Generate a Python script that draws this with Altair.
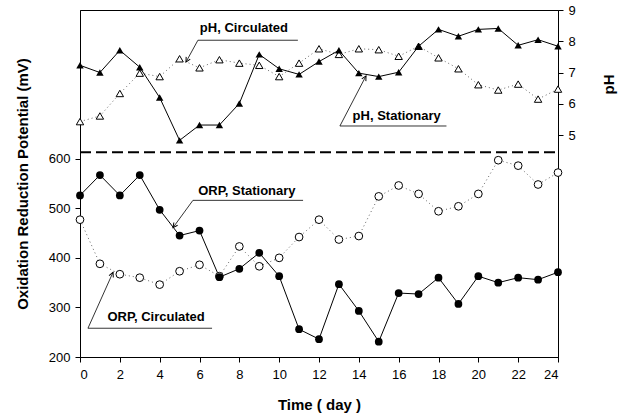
import altair as alt
import pandas as pd

days = list(range(0, 25))

ph_stationary = [7.23, 7.0, 7.71, 7.17, 6.2, 4.83, 5.32, 5.32, 6.01, 7.58, 7.12, 6.94, 7.35,
                 7.71, 6.98, 6.87, 7.01, 7.84, 8.38, 8.16, 8.38, 8.41, 7.87, 8.05, 7.84]
ph_circulated = [5.43, 5.61, 6.33, 6.98, 6.87, 7.44, 7.15, 7.41, 7.30, 7.23, 6.87, 7.30, 7.76,
                 7.58, 7.76, 7.73, 7.52, 7.84, 7.47, 7.12, 6.61, 6.44, 6.63, 6.15, 6.47]
orp_stationary = [526, 567, 526, 567, 497, 445, 455, 361, 378, 410, 363, 256, 236,
                  347, 293, 231, 329, 327, 360, 307, 363, 350, 360, 356, 371]
orp_circulated = [477, 388, 367, 360, 346, 373, 386, 363, 423, 383, 400, 442, 477,
                  437, 444, 524, 546, 529, 494, 504, 529, 597, 586, 548, 572]

divider_orp = [613]

# annotations (positions in data units: day, ORP)
ann_text = ["pH, Circulated", "pH, Stationary", "ORP, Stationary", "ORP, Circulated"]
ann_tx = [8.23, 15.9, 8.38, 3.82]
ann_ty = [863, 686, 534, 280]
ann_line_x1 = [5.92, 13.05, 5.67, 0.40]
ann_line_x2 = [10.94, 18.40, 11.20, 6.63]
ann_line_y = [839, 666, 516, 258]
ann_tip_x = [5.32, 14.36, 4.67, 1.66]
ann_tip_y = [795, 767, 461, 371]
ann_tip_angle = [209, 28, 216, 24]

FONT = "Liberation Sans"

df = pd.DataFrame({
    "day": days,
    "ph_s": ph_stationary,
    "ph_c": ph_circulated,
    "orp_s": orp_stationary,
    "orp_c": orp_circulated,
})
ann = pd.DataFrame({
    "text": ann_text, "tx": ann_tx, "ty": ann_ty,
    "x1": ann_line_x1, "x2": ann_line_x2, "ly": ann_line_y,
    "tipx": ann_tip_x, "tipy": ann_tip_y, "ang": ann_tip_angle,
})
div = pd.DataFrame({"y": divider_orp, "x1": [0], "x2": [24]})

xscale = alt.Scale(domain=[0, 24], nice=False, zero=False)
xaxis = alt.Axis(values=list(range(0, 25, 2)), title="Time ( day )", grid=False,
                 tickSize=5, labelPadding=6, titlePadding=16)

orp_scale = alt.Scale(domain=[200, 900], nice=False, zero=False)
orp_axis = alt.Axis(values=[200, 300, 400, 500, 600], title="Oxidation Reduction Potential (mV)",
                    grid=False, tickSize=5, labelPadding=5, titlePadding=18)

ph_scale = alt.Scale(domain=[-2.1, 9], nice=False, zero=False)
ph_axis = alt.Axis(values=[5, 6, 7, 8, 9], title="pH", orient="right", grid=False,
                   tickSize=5, labelPadding=5, titleAngle=270, titleY=74, titleX=50,
                   titleBaseline="middle")


def X(field):
    return alt.X(f"{field}:Q", scale=xscale, axis=xaxis)


def Yorp(field):
    return alt.Y(f"{field}:Q", scale=orp_scale, axis=orp_axis)


def Yph(field):
    return alt.Y(f"{field}:Q", scale=ph_scale, axis=ph_axis)


base = alt.Chart(df)

orp_c_line = base.mark_line(color="#666666", strokeDash=[1, 3], strokeWidth=1).encode(x=X("day"), y=Yorp("orp_c"))
orp_s_line = base.mark_line(color="black", strokeWidth=1).encode(x=X("day"), y=Yorp("orp_s"))
orp_c_pts = base.mark_point(shape="circle", filled=True, fill="white", stroke="black",
                            strokeWidth=1, size=60, opacity=1).encode(x=X("day"), y=Yorp("orp_c"))
orp_s_pts = base.mark_point(shape="circle", filled=True, color="black", size=60,
                            opacity=1).encode(x=X("day"), y=Yorp("orp_s"))

divider = alt.Chart(div).mark_rule(color="black", strokeWidth=2, strokeDash=[11, 5]).encode(
    x=X("x1"), x2="x2", y=Yorp("y"))

ann_lines = alt.Chart(ann).mark_rule(color="black", strokeWidth=0.8).encode(
    x=X("x1"), x2="x2", y=Yorp("ly"))
ann_arrows = alt.Chart(ann).mark_rule(color="black", strokeWidth=0.8).encode(
    x=X("x1"), x2="tipx", y=Yorp("ly"), y2="tipy")
ann_heads = alt.Chart(ann).mark_point(shape="M-0.6,1.2L0,0L0.6,1.2", filled=False, color="black",
                                      strokeWidth=1, size=60, opacity=1).encode(
    x=X("tipx"), y=Yorp("tipy"), angle=alt.Angle("ang:Q", scale=None))
ann_text_m = alt.Chart(ann).mark_text(font=FONT, fontWeight="bold", fontSize=13,
                                      color="black", baseline="middle").encode(
    x=X("tx"), y=Yorp("ty"), text="text:N")

orp_layer = alt.layer(divider, ann_lines, ann_arrows, ann_heads, ann_text_m,
                      orp_c_line, orp_s_line, orp_c_pts, orp_s_pts)

ph_c_line = base.mark_line(color="#666666", strokeDash=[1, 3], strokeWidth=1).encode(x=X("day"), y=Yph("ph_c"))
ph_s_line = base.mark_line(color="black", strokeWidth=1).encode(x=X("day"), y=Yph("ph_s"))
ph_c_pts = base.mark_point(shape="triangle-up", filled=True, fill="white", stroke="black",
                           strokeWidth=1, size=55, opacity=1).encode(x=X("day"), y=Yph("ph_c"))
ph_s_pts = base.mark_point(shape="triangle-up", filled=True, color="black", size=55,
                           opacity=1).encode(x=X("day"), y=Yph("ph_s"))

ph_layer = alt.layer(ph_c_line, ph_s_line, ph_c_pts, ph_s_pts)

chart = alt.layer(orp_layer, ph_layer).resolve_scale(y="independent").properties(
    width=478, height=347,
    autosize=alt.AutoSizeParams(type="none"),
    padding={"left": 80, "top": 10, "right": 65, "bottom": 60},
    background="white",
).configure_view(stroke="black", strokeWidth=1).configure_axis(
    domainColor="black", tickColor="black", labelColor="black", titleColor="black",
    labelFont=FONT, labelFontSize=13, titleFont=FONT, titleFontSize=15, titleFontWeight="bold",
    domainWidth=1,
)

chart.save("out.html", embed_options={"renderer": "svg", "actions": False})
